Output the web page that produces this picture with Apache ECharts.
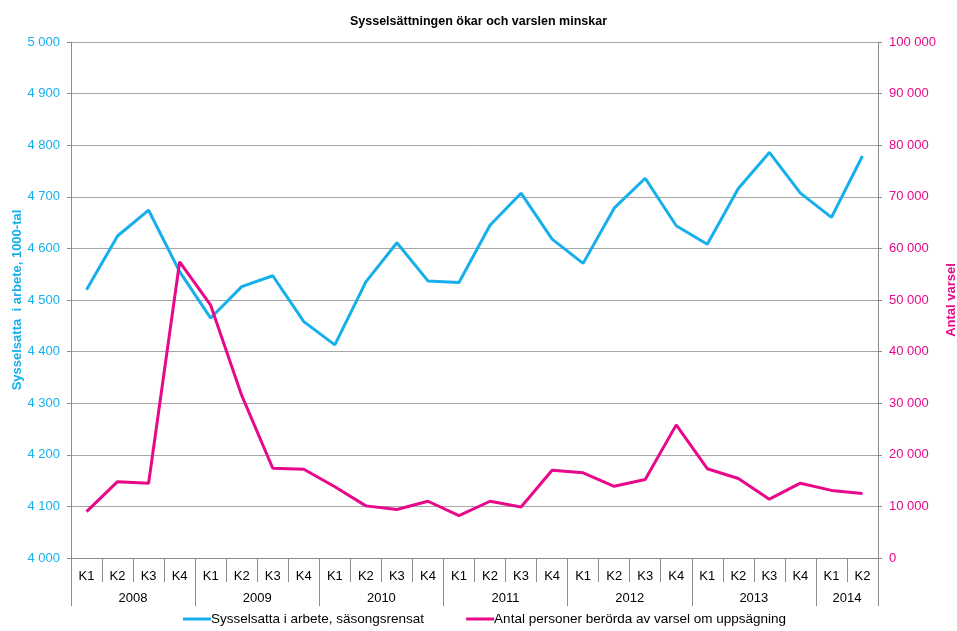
<!DOCTYPE html>
<html>
<head>
<meta charset="utf-8">
<script src="https://cdn.jsdelivr.net/npm/echarts@6/dist/echarts.min.js"></script>
<style>
  html, body { margin: 0; padding: 0; background: #fff; }
  #chart { width: 957px; height: 631px; }
</style>
</head>
<body>
<div id="chart"></div>
<script>
var quarters = ["K1","K2","K3","K4","K1","K2","K3","K4","K1","K2","K3","K4","K1","K2","K3","K4",
                "K1","K2","K3","K4","K1","K2","K3","K4","K1","K2"];
var years = ["2008","2009","2010","2011","2012","2013","2014"];
var yearBounds = [0, 4, 8, 12, 16, 20, 24, 26];
var yearCenters = [2, 6, 10, 14, 18, 22, 25];

// Sysselsatta i arbete, säsongsrensat (1000-tal)
var employed = [4520, 4624, 4674, 4555, 4465, 4526, 4547, 4458, 4413, 4535, 4611, 4537, 4534,
                4645, 4707, 4618, 4571, 4678, 4736, 4644, 4608, 4716, 4786, 4707, 4660, 4779];
// Antal personer berörda av varsel om uppsägning
var notices = [9000, 14800, 14500, 57400, 49000, 31500, 17400, 17200, 13800, 10100, 9400, 11000, 8200,
               11000, 9900, 17000, 16500, 13900, 15200, 25800, 17300, 15400, 11400, 14500, 13100, 12500];

var BLUE = "#15B0EC";
var PINK = "#E8088A";
var GRAY = "#8C8C8C";
var FONT = "Liberation Sans, Arial, sans-serif";

function spaced(v) {
    return String(v).replace(/\B(?=(\d{3})+(?!\d))/g, " ");
}

var chart = echarts.init(document.getElementById("chart"));
chart.setOption({
    animation: false,
    textStyle: { fontFamily: FONT },
    title: {
        text: "Sysselsättningen ökar och varslen minskar",
        left: "center",
        top: 10,
        textStyle: { fontSize: 12.5, fontWeight: "bold", color: "#000", fontFamily: FONT }
    },
    grid: { left: 71, right: 79, top: 42, bottom: 73, containLabel: false, outerBoundsMode: "none" },
    legend: {
        bottom: 0,
        left: 178,
        itemWidth: 28,
        itemHeight: 3,
        itemGap: 42,
        icon: "rect",
        textStyle: { fontSize: 13.5, color: "#000", fontFamily: FONT, padding: [0, 0, 0, -5] },
        data: ["Sysselsatta i arbete, säsongsrensat", "Antal personer berörda av varsel om uppsägning"]
    },
    xAxis: [{
        type: "category",
        data: quarters,
        boundaryGap: true,
        axisLine: { lineStyle: { color: GRAY, width: 1 } },
        axisTick: { show: true, interval: 0, length: 24, lineStyle: { color: GRAY } },
        axisLabel: { interval: 0, margin: 12, fontSize: 13, color: "#000" }
    }, {
        type: "value",
        min: 0,
        max: 26,
        position: "bottom",
        axisLine: { show: false },
        splitLine: { show: false },
        axisTick: { show: true, customValues: yearBounds, length: 48, lineStyle: { color: GRAY } },
        axisLabel: {
            customValues: yearCenters,
            margin: 34,
            fontSize: 13,
            color: "#000",
            formatter: function (v) { return years[yearCenters.indexOf(v)]; }
        }
    }],
    yAxis: [{
        type: "value",
        min: 4000,
        max: 5000,
        interval: 100,
        name: "Sysselsatta  i arbete, 1000-tal",
        nameLocation: "middle",
        nameGap: 47,
        nameMoveOverlap: false,
        nameTextStyle: { color: BLUE, fontWeight: "bold", fontSize: 13, fontFamily: FONT },
        axisLine: { show: true, lineStyle: { color: GRAY } },
        axisTick: { show: true, length: 4, lineStyle: { color: GRAY } },
        axisLabel: { color: BLUE, fontSize: 13, margin: 11, formatter: spaced },
        splitLine: { lineStyle: { color: "#A6A6A6", width: 1 } }
    }, {
        type: "value",
        min: 0,
        max: 100000,
        interval: 10000,
        position: "right",
        name: "Antal varsel",
        nameLocation: "middle",
        nameGap: 67,
        nameRotate: 90,
        nameMoveOverlap: false,
        nameTextStyle: { color: PINK, fontWeight: "bold", fontSize: 13, fontFamily: FONT },
        axisLine: { show: true, lineStyle: { color: GRAY } },
        axisTick: { show: true, length: 4, lineStyle: { color: GRAY } },
        axisLabel: { color: PINK, fontSize: 13, margin: 11, formatter: spaced },
        splitLine: { show: false }
    }],
    series: [{
        name: "Sysselsatta i arbete, säsongsrensat",
        type: "line",
        xAxisIndex: 0,
        yAxisIndex: 0,
        data: employed,
        showSymbol: false,
        lineStyle: { color: BLUE, width: 3 },
        itemStyle: { color: BLUE }
    }, {
        name: "Antal personer berörda av varsel om uppsägning",
        type: "line",
        xAxisIndex: 0,
        yAxisIndex: 1,
        data: notices,
        showSymbol: false,
        lineStyle: { color: PINK, width: 3 },
        itemStyle: { color: PINK }
    }]
});
</script>
</body>
</html>
